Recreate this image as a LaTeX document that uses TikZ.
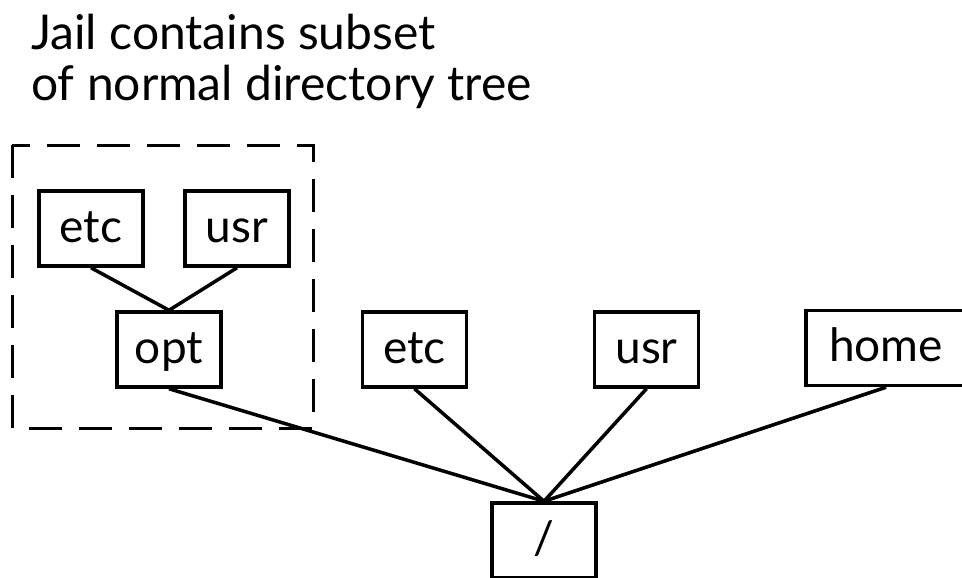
\documentclass[tikz,border=0pt]{standalone}
\usepackage{fontspec}
\setmainfont{Lato}
\usepackage{xcolor}
\usepackage{tikz}
\definecolor{ink}{HTML}{000000}

\tikzset{
  dirbox/.style={draw=ink, line width=3.5pt, minimum width=104pt, minimum height=75pt,
    inner sep=0pt, text height=27pt, text depth=0pt,
    font=\fontsize{46}{50}\selectfont, text=ink},
  link/.style={draw=ink, line width=3.5pt},
  jailbox/.style={draw=ink, line width=3pt, dash pattern=on 33pt off 17pt}
}

\begin{document}
\begin{tikzpicture}[x=1pt, y=-1pt]
    \useasboundingbox (0,0) rectangle (962,578);
    \begin{scope}
    \clip (0,0) rectangle (962,578);
    % caption
    \node[anchor=base west, inner sep=0pt, text=ink, font=\fontsize{48}{50}\selectfont] (capa) at (31,50) {Jail contains subset};
    \node[anchor=base west, inner sep=0pt, text=ink, font=\fontsize{48}{50}\selectfont] (capb) at (31,100) {of normal directory tree};
    % the jail
    \draw[jailbox] (12,145) rectangle (313,428);
    \node[dirbox] (jetc) at (91,228.5) {etc};
    \node[dirbox] (jusr) at (237,228.5) {usr};
    \node[dirbox] (opt) at (169,349.5) {opt};
    % normal tree
    \node[dirbox] (etc) at (414.5,349.5) {etc};
    \node[dirbox] (usr) at (646.5,349.5) {usr};
    \node[dirbox, minimum width=160pt] (home) at (886,348) {home};
    \node[dirbox] (root) at (544,540.5) {/};
    \draw[link] (jetc.south) -- (opt.north) -- (jusr.south);
    \draw[link] (opt.south) -- (root.north);
    \draw[link] (etc.south) -- (root.north);
    \draw[link] (usr.south) -- (root.north);
    \draw[link] (home.south) -- (root.north);
    \end{scope}
  \end{tikzpicture}
\end{document}
